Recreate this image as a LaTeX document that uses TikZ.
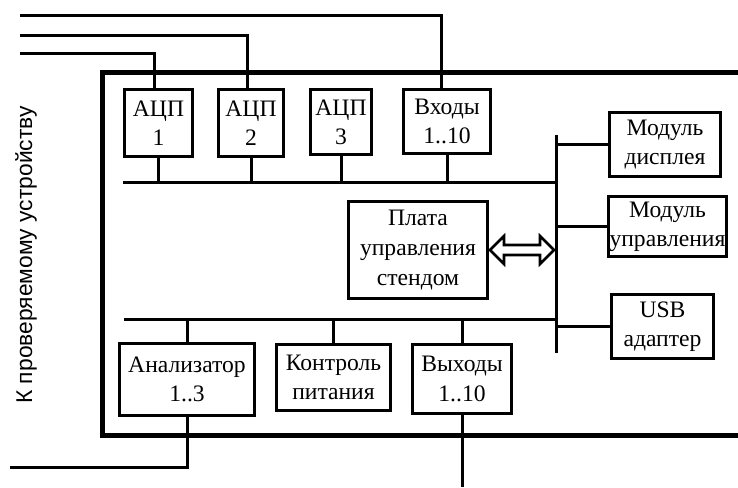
\documentclass[tikz,border=0pt]{standalone}
\usepackage{fontspec}
\setmainfont{Liberation Serif}
\newfontfamily\sidefont{Liberation Sans}
\usepackage{tikz}
\usetikzlibrary{calc}

\begin{document}
\begin{tikzpicture}[x=0.5pt, y=-0.5pt, every node/.style={font=\fontsize{11.8}{14.6}\selectfont}, box/.style={draw, line width=1.5pt, align=center, inner sep=0pt, fill=white}, wire/.style={line width=1.5pt}, frame/.style={line width=2.5pt}, link/.style={line width=1.3pt, fill=white, line join=miter}]
\useasboundingbox (0,0) rectangle (738,487);
\draw[frame] (738,72) -- (102,72) -- (102,435) -- (738,435);
\node[box, minimum width=34pt, minimum height=33.5pt] (adc1) at (158.5,123) {АЦП\\1};
\node[box, minimum width=32.5pt, minimum height=33.5pt] (adc2) at (251,123) {АЦП\\2};
\node[box, minimum width=30.5pt, minimum height=32.5pt] (adc3) at (341,122) {АЦП\\3};
\node[box, minimum width=43.5pt, minimum height=32pt] (inputs) at (447,121.5) {Входы\\1..10};
\node[box, minimum width=55.5pt, minimum height=32pt] (display) at (665,144.5) {Модуль\\дисплея};
\node[box, minimum width=59pt, minimum height=30pt] (control) at (667.5,226.5) {Модуль\\управления};
\node[box, minimum width=51pt, minimum height=32pt] (usb) at (662.5,326.5) {USB\\адаптер};
\node[box, minimum width=69.5pt, minimum height=48.5pt, font=\fontsize{11.8}{15}\selectfont] (plata) at (418,250) {Плата\\управления\\стендом};
\node[box, minimum width=67.5pt, minimum height=36pt] (analyzer) at (187,379.5) {Анализатор\\1..3};
\node[box, minimum width=57pt, minimum height=33pt] (power) at (333.5,377.5) {Контроль\\питания};
\node[box, minimum width=49.5pt, minimum height=34.5pt] (outputs) at (462,379) {Выходы\\1..10};
\node[font=\sidefont\fontsize{11.4}{14}\selectfont, rotate=90] (dut) at (26,255) {К проверяемому устройству};
\coordinate (in1) at (20,15); \coordinate (in2) at (20,35); \coordinate (in3) at (20,53);
\coordinate (tbus) at (123,182); \coordinate (bbus) at (124,319); \coordinate (rtop) at (556,135); \coordinate (rbot) at (556,353);
\coordinate (out1) at (10,467); \coordinate (out2) at (457,487);
\draw[wire] (in1) -| ([xshift=-3pt]inputs.north); \draw[wire] (in2) -| ([xshift=-2pt]adc2.north); \draw[wire] (in3) -| ([xshift=-2.25pt]adc1.north);
\draw[wire] (rtop) -- (rbot); \draw[wire] (tbus) -- (tbus -| rtop); \draw[wire] (bbus) -- (bbus -| rtop);
\draw[wire] (adc1) -- (adc1 |- tbus); \draw[wire] (adc2) -- (adc2 |- tbus); \draw[wire] (adc3) -- (adc3 |- tbus); \draw[wire] (inputs) -- (inputs |- tbus);
\draw[wire] (display) -- (display -| rtop); \draw[wire] (control) -- (control -| rtop); \draw[wire] (usb) -- (usb -| rtop);
\draw[wire] (analyzer) -- (analyzer |- bbus); \draw[wire] (power) -- (power |- bbus); \draw[wire] (outputs) -- (outputs |- bbus);
\draw[wire] (analyzer) |- (out1); \draw[wire] (outputs) -- (outputs |- out2);
\coordinate (la) at ($(plata.east)+(1,0)$); \coordinate (lb) at ($(plata.east -| rtop)+(-2,0)$);
\draw[link] (la) -- ++(14,-14) -- ++(0,9) -- ($(lb)+(-14,-5)$) -- ++(0,-9) -- (lb) -- ++(-14,14) -- ++(0,-9) -- ($(la)+(14,5)$) -- ++(0,9) -- cycle;
\end{tikzpicture}
\end{document}
